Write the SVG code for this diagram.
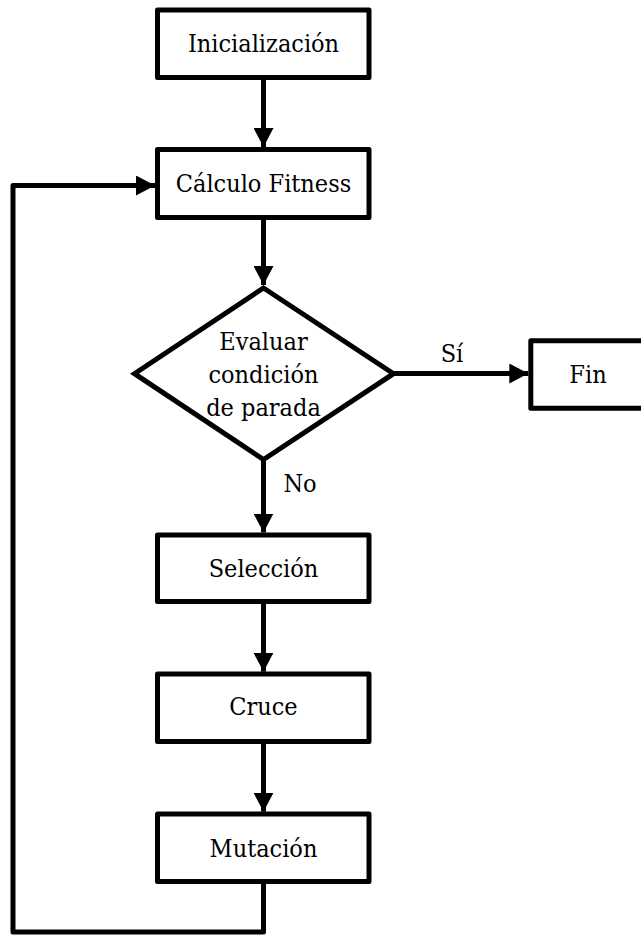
<svg xmlns="http://www.w3.org/2000/svg" width="641" height="937" viewBox="0 0 641 937">
  <style>
    .box { fill: #ffffff; stroke: #000000; stroke-width: 5; stroke-linejoin: round; }
    .dec { fill: #ffffff; stroke: #000000; stroke-width: 5; stroke-linejoin: miter; }
    .lbl { font-family: 'DejaVu Serif Condensed', 'DejaVu Serif', serif; font-stretch: condensed; font-size: 25px; fill: #000000; text-anchor: middle; }
    .wire { fill: none; stroke: #000000; stroke-width: 5; stroke-linejoin: round; }
  </style>
  <defs>
    <marker id="arrow" markerUnits="userSpaceOnUse" markerWidth="20" markerHeight="20" refX="19" refY="10" orient="auto">
      <path d="M0,0 L19,10 L0,20 z" fill="#000000"/>
    </marker>
  </defs>
  <rect width="641" height="937" fill="#ffffff"/>

  <g id="connectors">
    <line class="wire" x1="263.5" y1="78" x2="263.5" y2="147" marker-end="url(#arrow)"/>
    <line class="wire" x1="263.5" y1="218" x2="263.5" y2="285" marker-end="url(#arrow)"/>
    <line class="wire" x1="393" y1="373.5" x2="528.3" y2="373.5" marker-end="url(#arrow)"/>
    <line class="wire" x1="263.5" y1="460" x2="263.5" y2="532.5" marker-end="url(#arrow)"/>
    <line class="wire" x1="263.5" y1="602" x2="263.5" y2="671.7" marker-end="url(#arrow)"/>
    <line class="wire" x1="263.5" y1="742" x2="263.5" y2="811.7" marker-end="url(#arrow)"/>
    <path class="wire" d="M263.5,882 V932 H13 V185.5 H155" marker-end="url(#arrow)"/>
  </g>

  <g id="inicializacion">
    <rect class="box" x="157.5" y="10" width="211.5" height="67.5"/>
    <text class="lbl" x="263.5" y="52">Inicialización</text>
  </g>

  <g id="calculo-fitness">
    <rect class="box" x="157.5" y="149.5" width="211.5" height="68"/>
    <text class="lbl" x="263.5" y="192">Cálculo Fitness</text>
  </g>

  <g id="evaluar">
    <polygon class="dec" points="263.5,288 393.5,373.7 263.5,459.5 134.5,373.7"/>
    <text class="lbl" x="263.5" y="350">Evaluar</text>
    <text class="lbl" x="263.5" y="383">condición</text>
    <text class="lbl" x="263.5" y="416">de parada</text>
  </g>

  <g id="fin">
    <rect class="box" x="530.8" y="340.8" width="130" height="67.4"/>
    <text class="lbl" x="588" y="383">Fin</text>
  </g>

  <g id="seleccion">
    <rect class="box" x="157.5" y="535" width="211.5" height="66.5"/>
    <text class="lbl" x="263.5" y="577">Selección</text>
  </g>

  <g id="cruce">
    <rect class="box" x="157.5" y="674" width="211.5" height="67.5"/>
    <text class="lbl" x="263.5" y="715">Cruce</text>
  </g>

  <g id="mutacion">
    <rect class="box" x="157.5" y="814" width="211.5" height="67.5"/>
    <text class="lbl" x="263.5" y="857">Mutación</text>
  </g>

  <g id="edge-labels">
    <text class="lbl" x="452" y="362">Sí</text>
    <text class="lbl" x="300" y="492">No</text>
  </g>
</svg>
